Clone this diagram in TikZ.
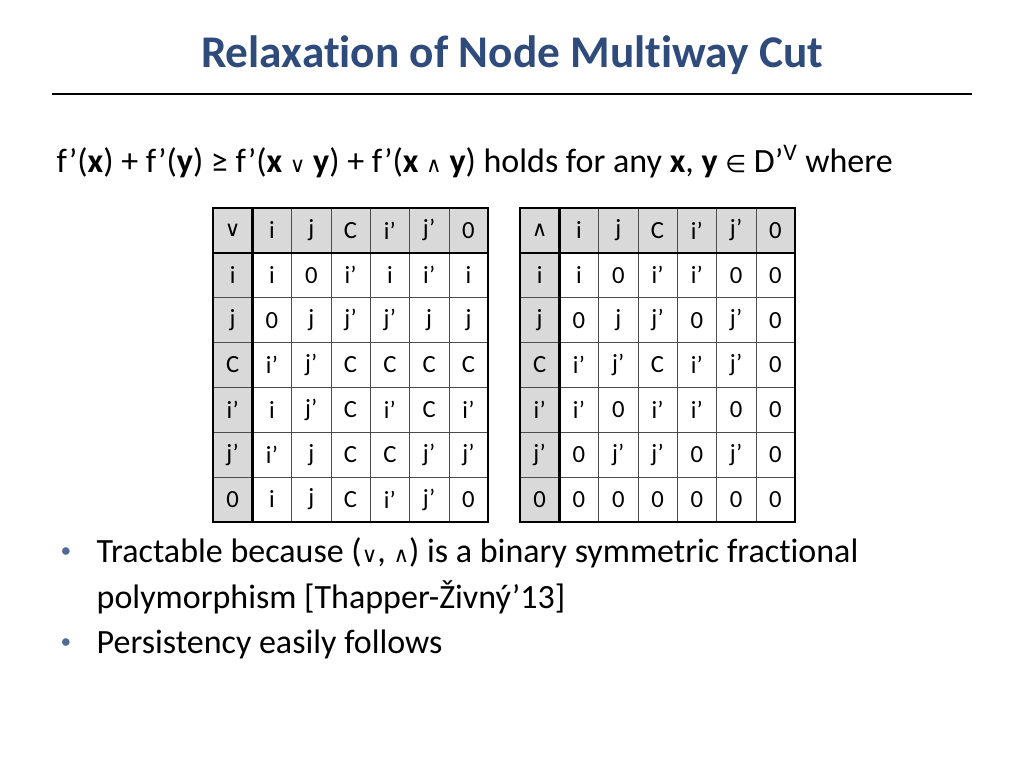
\documentclass[tikz,border=0pt]{standalone}
\usepackage{fontspec}
\setmainfont{Carlito}[Ligatures={NoCommon}]
\newfontfamily\symfont{DejaVu Sans}
\definecolor{titleblue}{HTML}{2F4B7C}
\definecolor{headgray}{HTML}{D9D9D9}
\definecolor{bulletblue}{HTML}{4F6A96}
\tikzset{
  cell/.style={font=\fontsize{18.5}{22}\selectfont},
  body/.style={font=\fontsize{25.5}{30}\selectfont, anchor=west},
}
\newcommand{\joinsym}{{\symfont\fontsize{16}{18}\selectfont ∨}}
\newcommand{\meetsym}{{\symfont\fontsize{16}{18}\selectfont ∧}}
\begin{document}
\begin{tikzpicture}[x=0.75pt,y=-0.75pt]
\useasboundingbox (0,0) rectangle (1024,768);

% title
\node[font=\fontsize{34}{40}\selectfont\bfseries, text=titleblue] (title) at (512,55) {Relaxation of Node Multiway Cut};
\draw[line width=2.2pt] (52,94) -- (972,94);

\node[body] (claim) at (52,162) {f’(\textbf{x}) + f’(\textbf{y}) ≥ f’(\textbf{x} \joinsym{} \textbf{y}) + f’(\textbf{x} \meetsym{} \textbf{y}) holds for any \textbf{x}, \textbf{y} {\symfont\fontsize{18}{20}\selectfont ∈} D’\textsuperscript{V} where};

% join table
\def\tx{213}
\fill[headgray] (\tx,208) rectangle ++(275,44.5);
\fill[headgray] (\tx,208) rectangle ++(39.3,314);
\foreach \i in {1,...,6} {
  \draw[gray!60!black, thin] (\tx+\i*39.3,208) -- ++(0,314);
  \draw[gray!60!black, thin] (\tx,208+\i*44.85) -- ++(275,0);
}
\draw[line width=1.8pt] (\tx,208) rectangle ++(275,314);
\draw[line width=1.8pt] (\tx+39.3,208) -- ++(0,314);
\draw[line width=1.8pt] (\tx,252.85) -- ++(275,0);
\foreach \row [count=\r from 0] in {
  {\joinsym,i,j,C,i',j’,0},
  {i,i,0,i’,i,i’,i},
  {j,0,j,j’,j’,j,j},
  {C,i’,j’,C,C,C,C},
  {i’,i,j’,C,i’,C,i’},
  {j’,i’,j,C,C,j’,j’},
  {0,i,j,C,i’,j’,0}} {
  \foreach \v [count=\c from 0] in \row
    \node[cell] (join-\r-\c) at (\tx+19.65+\c*39.3,230.4+\r*44.85) {\v};
}

% meet table
\def\tx{520}
\fill[headgray] (\tx,208) rectangle ++(275,44.5);
\fill[headgray] (\tx,208) rectangle ++(39.3,314);
\foreach \i in {1,...,6} {
  \draw[gray!60!black, thin] (\tx+\i*39.3,208) -- ++(0,314);
  \draw[gray!60!black, thin] (\tx,208+\i*44.85) -- ++(275,0);
}
\draw[line width=1.8pt] (\tx,208) rectangle ++(275,314);
\draw[line width=1.8pt] (\tx+39.3,208) -- ++(0,314);
\draw[line width=1.8pt] (\tx,252.85) -- ++(275,0);
\foreach \row [count=\r from 0] in {
  {\meetsym,i,j,C,i',j’,0},
  {i,i,0,i’,i’,0,0},
  {j,0,j,j’,0,j’,0},
  {C,i’,j’,C,i’,j’,0},
  {i’,i’,0,i’,i’,0,0},
  {j’,0,j’,j’,0,j’,0},
  {0,0,0,0,0,0,0}} {
  \foreach \v [count=\c from 0] in \row
    \node[cell] (meet-\r-\c) at (\tx+19.65+\c*39.3,230.4+\r*44.85) {\v};
}

% bullets
\node[body, text=bulletblue, font=\fontsize{16}{18}\selectfont] (b1) at (56,553) {•};
\node[body] (t1) at (92,553) {Tractable because (\joinsym, \meetsym) is a binary symmetric fractional};
\node[body] (t1b) at (92,597) {polymorphism [Thapper-Živný’13]};
\node[body, text=bulletblue, font=\fontsize{16}{18}\selectfont] (b2) at (56,644) {•};
\node[body] (t2) at (92,644) {Persistency easily follows};
\end{tikzpicture}
\end{document}
